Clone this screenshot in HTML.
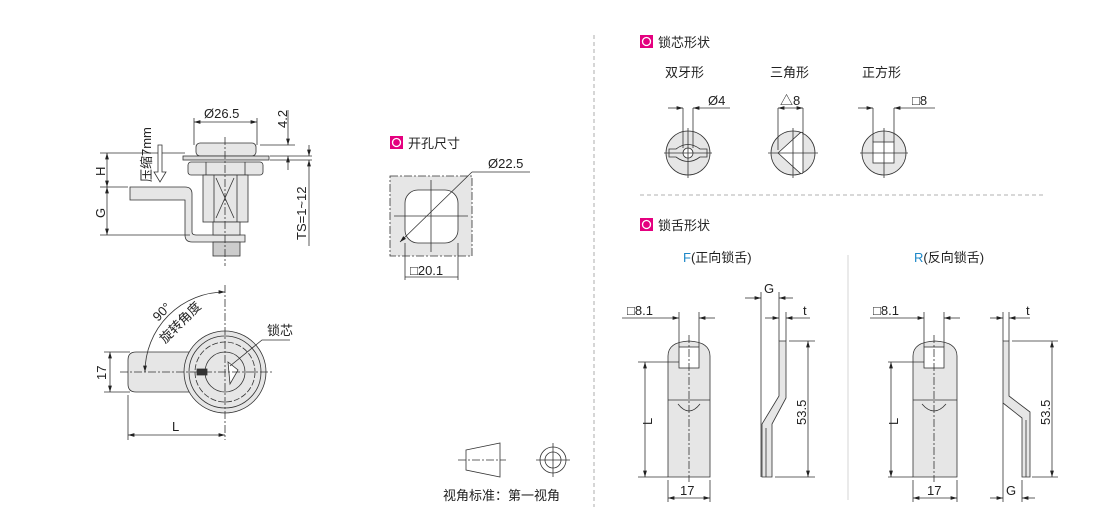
<!DOCTYPE html>
<html><head><meta charset="utf-8"><style>
body{margin:0;background:#fff;width:1110px;height:507px;overflow:hidden}
svg{display:block}
text{font-family:"Liberation Sans","Noto Sans CJK SC",sans-serif;fill:#222}
</style></head><body>
<svg width="1110" height="507" viewBox="0 0 1110 507" xmlns="http://www.w3.org/2000/svg">
<defs>
<marker id="a" viewBox="0 0 10 6" refX="10" refY="3" markerWidth="8" markerHeight="5" orient="auto-start-reverse"><path d="M0,0L10,3L0,6z" fill="#222"/></marker>
</defs>
<g stroke="#333" stroke-width="0.8" fill="none">
<!-- dividers -->
<line x1="594" y1="35" x2="594" y2="507" stroke="#999" stroke-dasharray="4,3"/>
<line x1="640" y1="195" x2="1045" y2="195" stroke="#999" stroke-dasharray="4,3"/>
<line x1="848" y1="255" x2="848" y2="500" stroke="#ccc"/>

<!-- TOP LEFT side view -->
<path d="M130,187 H185 Q192,187 192,194 V232 Q192,235 196,235 H245 V242 H192 Q185,242 185,235 V200 H130 Z" fill="#e6e6e6"/>
<rect x="196" y="143" width="60" height="13" rx="4" fill="#e6e6e6"/>
<rect x="183" y="156" width="86" height="4" fill="#ddd"/>
<rect x="188" y="162" width="75" height="13" rx="3" fill="#e6e6e6"/>
<line x1="206" y1="162" x2="206" y2="175"/><line x1="245" y1="162" x2="245" y2="175"/>
<rect x="203" y="175" width="45" height="47" fill="#e6e6e6"/>
<line x1="214" y1="175" x2="214" y2="222"/><line x1="237" y1="175" x2="237" y2="222"/>
<line x1="216" y1="178" x2="234" y2="218"/><line x1="234" y1="178" x2="216" y2="218"/>
<rect x="213" y="222" width="27" height="13" fill="#e6e6e6"/>
<rect x="213" y="242" width="27" height="14" fill="#ccc"/>
<line x1="225" y1="137" x2="225" y2="266" stroke-dasharray="8,2,2,2"/>
<!-- dims -->
<line x1="194" y1="145" x2="194" y2="118"/><line x1="257" y1="145" x2="257" y2="118"/>
<line x1="194" y1="122" x2="257" y2="122" marker-start="url(#a)" marker-end="url(#a)"/>
<line x1="100" y1="153" x2="185" y2="153"/><line x1="100" y1="187" x2="128" y2="187"/><line x1="100" y1="235" x2="190" y2="235"/>
<line x1="107" y1="153" x2="107" y2="187" marker-start="url(#a)" marker-end="url(#a)"/>
<line x1="107" y1="187" x2="107" y2="235" marker-start="url(#a)" marker-end="url(#a)"/>
<path d="M158,145 V172 H154 L160,182 L166,172 H162 V145 Z" fill="#fff"/>
<line x1="260" y1="145" x2="295" y2="145"/><line x1="270" y1="156" x2="312" y2="156"/><line x1="270" y1="160" x2="312" y2="160"/>
<line x1="288" y1="110" x2="288" y2="145" marker-end="url(#a)"/><line x1="288" y1="170" x2="288" y2="156" marker-end="url(#a)"/>
<line x1="309" y1="145" x2="309" y2="156" marker-end="url(#a)"/><line x1="309" y1="246" x2="309" y2="160" marker-end="url(#a)"/>

<!-- BOTTOM LEFT front view -->
<path d="M136,352 H195 V392 H136 Q128,392 128,384 V360 Q128,352 136,352Z" fill="#e6e6e6"/>
<circle cx="225" cy="372" r="41" fill="#e6e6e6"/>
<circle cx="225" cy="372" r="36" fill="#e6e6e6"/>
<circle cx="225" cy="372" r="30" stroke-dasharray="6,2"/>
<circle cx="225" cy="372" r="20" fill="#e6e6e6"/>
<path d="M228,362 L238,370 L230,384Z" fill="#fff"/>
<rect x="197" y="369" width="10" height="6" fill="#333"/>
<line x1="120" y1="372" x2="272" y2="372" stroke-dasharray="8,2,2,2"/>
<line x1="225" y1="285" x2="225" y2="440" stroke-dasharray="8,2,2,2"/>
<line x1="104" y1="352" x2="130" y2="352"/><line x1="104" y1="392" x2="130" y2="392"/>
<line x1="110" y1="352" x2="110" y2="392" marker-start="url(#a)" marker-end="url(#a)"/>
<line x1="128" y1="395" x2="128" y2="440"/>
<line x1="128" y1="435" x2="225" y2="435" marker-start="url(#a)" marker-end="url(#a)"/>
<path d="M145,372 A80,80 0 0 1 225,292" marker-start="url(#a)" marker-end="url(#a)"/>
<path d="M230,366 L262,340 H290"/>

<!-- HOLE -->
<rect x="390" y="176" width="82" height="80" fill="#e6e6e6" stroke-dasharray="8,2,2,2"/>
<rect x="405" y="190" width="53" height="53" rx="13" fill="#fff"/>
<line x1="431" y1="180" x2="431" y2="252"/><line x1="394" y1="216" x2="468" y2="216"/>
<line x1="400" y1="242" x2="472" y2="172" marker-start="url(#a)"/><line x1="472" y1="172" x2="530" y2="172"/>
<line x1="405" y1="243" x2="405" y2="280"/><line x1="458" y1="243" x2="458" y2="280"/>
<line x1="405" y1="277" x2="458" y2="277"/>

<!-- view symbol -->
<path d="M466,450 L500,443 V477 L466,470Z"/>
<line x1="458" y1="460" x2="506" y2="460" stroke-dasharray="8,2,2,2"/>
<circle cx="553" cy="460" r="13"/><circle cx="553" cy="460" r="8"/>
<line x1="536" y1="460" x2="570" y2="460"/><line x1="553" y1="443" x2="553" y2="477"/>

<!-- cores -->
<circle cx="688" cy="153" r="22" fill="#e6e6e6"/>
<path d="M669,149 H676 Q688,140 700,149 H707 V157 H700 Q688,166 676,157 H669Z" fill="#e6e6e6"/>
<circle cx="688" cy="153" r="5" fill="#fff"/>
<line x1="664" y1="153" x2="712" y2="153"/><line x1="688" y1="128" x2="688" y2="178"/>
<line x1="683" y1="108" x2="683" y2="148"/><line x1="693" y1="108" x2="693" y2="148"/>
<line x1="668" y1="108" x2="683" y2="108" marker-end="url(#a)"/><line x1="730" y1="108" x2="693" y2="108" marker-end="url(#a)"/>
<circle cx="793" cy="153" r="22" fill="#e6e6e6"/>
<path d="M778,153 L800,133 Q803,131 803,135 V171 Q803,175 800,173Z" fill="#fff"/>
<line x1="768" y1="153" x2="818" y2="153"/><line x1="793" y1="128" x2="793" y2="178"/>
<line x1="778" y1="108" x2="778" y2="150"/><line x1="803" y1="108" x2="803" y2="135"/>
<line x1="778" y1="108" x2="803" y2="108" marker-start="url(#a)" marker-end="url(#a)"/>
<circle cx="884" cy="153" r="22" fill="#e6e6e6"/>
<rect x="873" y="142" width="21" height="21" fill="#fff"/>
<line x1="860" y1="153" x2="908" y2="153"/><line x1="884" y1="128" x2="884" y2="178"/>
<line x1="873" y1="108" x2="873" y2="142"/><line x1="894" y1="108" x2="894" y2="142"/>
<line x1="858" y1="108" x2="873" y2="108" marker-end="url(#a)"/><line x1="935" y1="108" x2="894" y2="108" marker-end="url(#a)"/>

<!-- F tongue -->
<path d="M668,477 V356 Q668,342 689,341 Q710,342 710,356 V477Z" fill="#e6e6e6"/>
<rect x="679" y="347" width="20" height="21" fill="#fff"/>
<line x1="668" y1="400" x2="710" y2="400"/><path d="M678,404 Q689,418 700,404"/>
<line x1="689" y1="335" x2="689" y2="482" stroke-dasharray="8,2,2,2"/>
<line x1="679" y1="312" x2="679" y2="347"/><line x1="699" y1="312" x2="699" y2="347"/>
<line x1="622" y1="318" x2="679" y2="318" marker-end="url(#a)"/><line x1="715" y1="318" x2="699" y2="318" marker-end="url(#a)"/>
<line x1="638" y1="362" x2="679" y2="362"/><line x1="638" y1="477" x2="668" y2="477"/>
<line x1="645" y1="362" x2="645" y2="477" marker-start="url(#a)" marker-end="url(#a)"/>
<line x1="668" y1="480" x2="668" y2="502"/><line x1="710" y1="480" x2="710" y2="502"/>
<line x1="668" y1="498" x2="710" y2="498" marker-start="url(#a)" marker-end="url(#a)"/>
<path d="M779,341 H786 V398 L772,424 V477 H762 V424 L779,396Z" fill="#e6e6e6"/>
<line x1="766" y1="428" x2="766" y2="477"/>
<line x1="761" y1="292" x2="761" y2="477"/><line x1="779" y1="292" x2="779" y2="341"/><line x1="786" y1="312" x2="786" y2="341"/>
<line x1="745" y1="298" x2="761" y2="298" marker-end="url(#a)"/><line x1="793" y1="298" x2="779" y2="298" marker-end="url(#a)"/>
<line x1="765" y1="318" x2="779" y2="318" marker-end="url(#a)"/><line x1="810" y1="318" x2="786" y2="318" marker-end="url(#a)"/>
<line x1="789" y1="341" x2="815" y2="341"/><line x1="775" y1="477" x2="815" y2="477"/>
<line x1="808" y1="341" x2="808" y2="477" marker-start="url(#a)" marker-end="url(#a)"/>

<!-- R tongue -->
<path d="M913,477 V356 Q913,342 935,341 Q957,342 957,356 V477Z" fill="#e6e6e6"/>
<rect x="924" y="347" width="20" height="21" fill="#fff"/>
<line x1="913" y1="400" x2="957" y2="400"/><path d="M922,404 Q934,418 946,404"/>
<line x1="934" y1="335" x2="934" y2="482" stroke-dasharray="8,2,2,2"/>
<line x1="924" y1="312" x2="924" y2="347"/><line x1="944" y1="312" x2="944" y2="347"/>
<line x1="870" y1="318" x2="924" y2="318" marker-end="url(#a)"/><line x1="960" y1="318" x2="944" y2="318" marker-end="url(#a)"/>
<line x1="888" y1="362" x2="924" y2="362"/><line x1="888" y1="477" x2="913" y2="477"/>
<line x1="891" y1="362" x2="891" y2="477" marker-start="url(#a)" marker-end="url(#a)"/>
<line x1="913" y1="480" x2="913" y2="502"/><line x1="957" y1="480" x2="957" y2="502"/>
<line x1="913" y1="498" x2="957" y2="498" marker-start="url(#a)" marker-end="url(#a)"/>
<path d="M1003,341 H1009 V396 L1030,412 V477 H1022 V418 L1003,403Z" fill="#e6e6e6"/>
<line x1="1026" y1="420" x2="1026" y2="477"/>
<line x1="1003" y1="312" x2="1003" y2="341"/><line x1="1009" y1="312" x2="1009" y2="341"/>
<line x1="990" y1="318" x2="1003" y2="318" marker-end="url(#a)"/><line x1="1030" y1="318" x2="1009" y2="318" marker-end="url(#a)"/>
<line x1="1012" y1="341" x2="1058" y2="341"/><line x1="1032" y1="477" x2="1058" y2="477"/>
<line x1="1052" y1="341" x2="1052" y2="477" marker-start="url(#a)" marker-end="url(#a)"/>
<line x1="1003" y1="403" x2="1003" y2="502"/><line x1="1022" y1="480" x2="1022" y2="502"/>
<line x1="990" y1="498" x2="1003" y2="498" marker-end="url(#a)"/><line x1="1035" y1="498" x2="1022" y2="498" marker-end="url(#a)"/>
</g>

<!-- icons -->
<g stroke="none">
<rect x="390" y="136" width="13" height="13" fill="#e4007f"/><circle cx="396.5" cy="142.5" r="4" fill="none" stroke="#fff" stroke-width="1.3"/>
<rect x="640" y="35" width="13" height="13" fill="#e4007f"/><circle cx="646.5" cy="41.5" r="4" fill="none" stroke="#fff" stroke-width="1.3"/>
<rect x="640" y="218" width="13" height="13" fill="#e4007f"/><circle cx="646.5" cy="224.5" r="4" fill="none" stroke="#fff" stroke-width="1.3"/>
</g>

<g font-size="13">
<text x="204" y="118">Ø26.5</text>
<text transform="translate(287,128) rotate(-90)">4.2</text>
<text transform="translate(151,182) rotate(-90)">压缩7mm</text>
<text transform="translate(105,176) rotate(-90)">H</text>
<text transform="translate(105,218) rotate(-90)">G</text>
<text transform="translate(306,240) rotate(-90)">TS=1~12</text>
<text transform="translate(106,380) rotate(-90)">17</text>
<text x="172" y="431">L</text>
<text transform="translate(158,322) rotate(-45)">90°</text>
<text transform="translate(165,344) rotate(-45)">旋转角度</text>
<text x="267" y="335">锁芯</text>
<text x="408" y="148">开孔尺寸</text>
<text x="488" y="168">Ø22.5</text>
<text x="410" y="275">□20.1</text>
<text x="443" y="500">视角标准：第一视角</text>
<text x="658" y="47">锁芯形状</text>
<text x="665" y="77">双牙形</text>
<text x="770" y="77">三角形</text>
<text x="862" y="77">正方形</text>
<text x="708" y="105">Ø4</text>
<text x="780" y="105">△8</text>
<text x="912" y="105">□8</text>
<text x="658" y="230">锁舌形状</text>
<text x="683" y="262"><tspan fill="#1e88c8">F</tspan>(正向锁舌)</text>
<text x="914" y="262"><tspan fill="#1e88c8">R</tspan>(反向锁舌)</text>
<text x="627" y="315">□8.1</text>
<text x="764" y="293">G</text>
<text x="803" y="315">t</text>
<text transform="translate(652,425) rotate(-90)">L</text>
<text transform="translate(806,425) rotate(-90)">53.5</text>
<text x="680" y="495">17</text>
<text x="873" y="315">□8.1</text>
<text x="1026" y="315">t</text>
<text transform="translate(898,425) rotate(-90)">L</text>
<text transform="translate(1050,425) rotate(-90)">53.5</text>
<text x="927" y="495">17</text>
<text x="1006" y="495">G</text>
</g>
</svg>
</body></html>
